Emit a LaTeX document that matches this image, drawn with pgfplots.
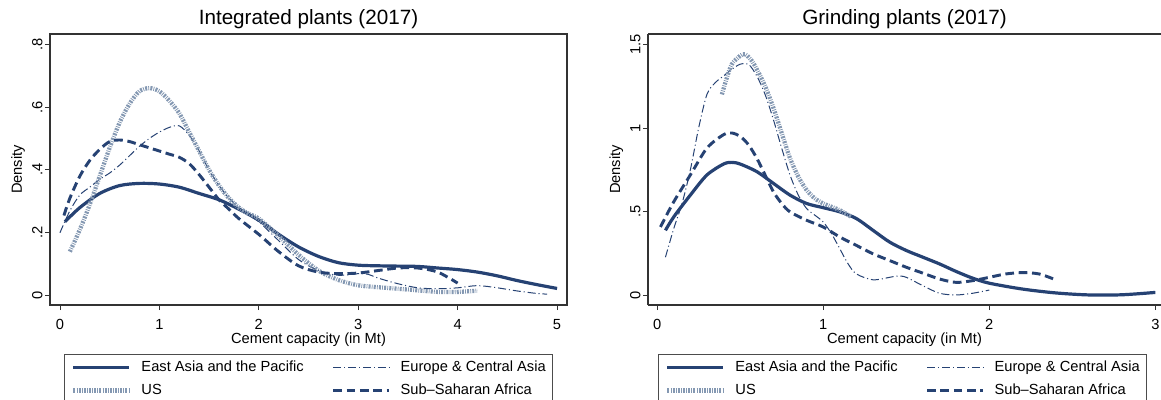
\documentclass[border=0pt]{standalone}
\usepackage{fontspec}
\setmainfont{Liberation Sans}
\usepackage{pgfplots}
\pgfplotsset{compat=1.18}
\definecolor{navyc}{RGB}{38,66,115}
\definecolor{usc}{RGB}{132,152,178}
\pgfplotsset{
  statastyle/.style={
    scale only axis, height=203.25pt,
    axis line style={black!80, line width=0.9pt},
    tick align=outside, major tick length=3.75pt,
    tick style={black!80, line width=0.6pt},
    xtick pos=bottom, ytick pos=left,
    ticklabel style={font=\fontsize{11}{13}\selectfont},
    xticklabel shift=3.2pt,
    yticklabel shift=2pt,
    /pgf/number format/assume math mode=true,
    title style={font=\fontsize{15.5}{18}\selectfont, anchor=base, at={(0.5,1)}, yshift=0.75pt},
    xlabel style={font=\fontsize{11}{13}\selectfont, at={(axis description cs:0.5,0)}, anchor=base, yshift=-28.9pt},
    ylabel style={font=\fontsize{11}{13}\selectfont, at={([xshift=-21pt]axis description cs:0,0.5)}, anchor=base, rotate=0},
    yticklabel style={rotate=90, anchor=base},
    legend columns=2,
    legend cell align=left,
    legend image code/.code={\draw[#1] (0pt,0pt) -- (42pt,0pt);},
    legend style={anchor=north, draw=black!70, line width=0.6pt,
      font=\fontsize{11}{13}\selectfont,
      inner xsep=5.25pt, inner ysep=4.6pt,
      nodes={inner sep=0pt, text height=8pt, text depth=2.3pt},
      row sep=7pt,
      /tikz/every odd column/.append style={column sep=7.5pt},
      /tikz/every even column/.append style={column sep=21pt}},
    every axis plot/.append style={smooth, line join=round},
  },
  eap/.style={navyc, line width=2.4pt},
  eca/.style={navyc, line width=0.75pt, dash pattern=on 6pt off 2.2pt on 0.8pt off 2.2pt},
  us/.style={usc, line width=3.2pt, dash pattern=on 1.5pt off 0.9pt on 0.6pt off 0.9pt},
  ssa/.style={navyc, line width=2.2pt, dash pattern=on 6.5pt off 3.5pt},
}
\begin{document}
\begin{tikzpicture}
\begin{axis}[statastyle, at={(0pt,0pt)}, anchor=south west,
  width=387.75pt,
  xmin=-0.1, xmax=5.1, ymin=-0.0296, ymax=0.832,
  xtick={0,1,2,3,4,5},
  ytick={0,0.2,0.4,0.6,0.8}, yticklabels={0,.2,.4,.6,.8},
  title={Integrated plants (2017)},
  xlabel={Cement capacity (in Mt)}, ylabel={Density},
  legend style={at={(0.5,-0.1808)}},
]
\addplot[eap] coordinates {(0.05,0.235)(0.2,0.28)(0.4,0.325)(0.6,0.35)(0.8,0.357)(1.0,0.355)(1.2,0.345)(1.4,0.325)(1.6,0.305)(1.8,0.275)(2.0,0.24)(2.2,0.195)(2.4,0.155)(2.6,0.125)(2.8,0.105)(3.0,0.097)(3.2,0.095)(3.4,0.094)(3.6,0.093)(3.8,0.088)(4.0,0.083)(4.2,0.075)(4.4,0.063)(4.6,0.048)(4.8,0.035)(5.0,0.023)};
\addlegendentry{East Asia and the Pacific}
\addplot[eca] coordinates {(0,0.2)(0.1,0.27)(0.2,0.32)(0.3,0.345)(0.4,0.37)(0.5,0.39)(0.6,0.415)(0.7,0.445)(0.8,0.475)(0.9,0.5)(1.0,0.52)(1.1,0.535)(1.2,0.54)(1.3,0.51)(1.4,0.46)(1.5,0.4)(1.6,0.35)(1.7,0.31)(1.8,0.28)(1.9,0.255)(2.0,0.235)(2.2,0.175)(2.4,0.115)(2.6,0.08)(2.8,0.065)(3.0,0.07)(3.1,0.068)(3.2,0.056)(3.4,0.038)(3.6,0.025)(3.8,0.022)(4.0,0.025)(4.2,0.032)(4.4,0.025)(4.6,0.015)(4.8,0.007)(4.9,0.005)};
\addlegendentry{Europe \& Central Asia\hspace{4.5pt}}
\addplot[us] coordinates {(0.1,0.14)(0.2,0.21)(0.3,0.29)(0.4,0.38)(0.5,0.47)(0.6,0.55)(0.7,0.61)(0.8,0.65)(0.9,0.66)(1.0,0.65)(1.1,0.62)(1.2,0.58)(1.3,0.52)(1.4,0.46)(1.5,0.40)(1.6,0.35)(1.7,0.31)(1.8,0.28)(1.9,0.26)(2.0,0.245)(2.2,0.19)(2.4,0.13)(2.6,0.08)(2.8,0.05)(3.0,0.033)(3.2,0.027)(3.4,0.022)(3.6,0.017)(3.8,0.012)(4.0,0.012)(4.2,0.016)};
\addlegendentry{US}
\addplot[ssa] coordinates {(0.04,0.255)(0.1,0.31)(0.2,0.38)(0.3,0.43)(0.4,0.465)(0.5,0.49)(0.6,0.495)(0.7,0.49)(0.8,0.48)(0.9,0.47)(1.0,0.46)(1.1,0.45)(1.2,0.44)(1.3,0.42)(1.4,0.385)(1.5,0.345)(1.6,0.305)(1.7,0.275)(1.8,0.245)(2.0,0.195)(2.2,0.14)(2.4,0.095)(2.6,0.075)(2.8,0.07)(3.0,0.072)(3.2,0.08)(3.4,0.088)(3.6,0.088)(3.8,0.075)(4.0,0.04)};
\addlegendentry{Sub\char"2013Saharan Africa}
\end{axis}
\begin{axis}[statastyle, at={(448.5pt,0pt)}, anchor=south west,
  width=384.75pt,
  axis y line*=left,
  xmin=-0.055, xmax=3.034, ymin=-0.055, ymax=1.56,
  xtick={0,1,2,3},
  ytick={0,0.5,1,1.5}, yticklabels={0,.5,1,1.5},
  title={Grinding plants (2017)},
  xlabel={Cement capacity (in Mt)}, ylabel={Density},
  legend style={at={(0.496,-0.1808)}},
]
\addplot[eap] coordinates {(0.05,0.39)(0.1,0.47)(0.2,0.6)(0.3,0.72)(0.4,0.785)(0.45,0.795)(0.5,0.785)(0.6,0.74)(0.7,0.67)(0.8,0.6)(0.9,0.55)(1.0,0.525)(1.1,0.5)(1.2,0.46)(1.3,0.39)(1.4,0.32)(1.5,0.27)(1.6,0.23)(1.7,0.19)(1.8,0.145)(1.9,0.105)(2.0,0.075)(2.2,0.04)(2.4,0.017)(2.6,0.005)(2.8,0.006)(3.0,0.02)};
\addlegendentry{East Asia and the Pacific}
\addplot[eca] coordinates {(0.05,0.23)(0.1,0.4)(0.15,0.55)(0.2,0.75)(0.25,1.0)(0.3,1.2)(0.35,1.27)(0.4,1.31)(0.45,1.35)(0.5,1.38)(0.55,1.38)(0.6,1.31)(0.65,1.2)(0.7,1.05)(0.75,0.88)(0.8,0.72)(0.85,0.6)(0.9,0.52)(0.95,0.48)(1.0,0.44)(1.05,0.37)(1.1,0.28)(1.15,0.19)(1.2,0.13)(1.3,0.095)(1.4,0.11)(1.45,0.118)(1.5,0.11)(1.6,0.06)(1.7,0.015)(1.8,0.005)(1.9,0.015)(2.0,0.034)};
\addlegendentry{Europe \& Central Asia\hspace{4.5pt}}
\addplot[us] coordinates {(0.39,1.2)(0.42,1.3)(0.45,1.38)(0.5,1.43)(0.53,1.44)(0.57,1.4)(0.6,1.35)(0.65,1.25)(0.7,1.12)(0.75,0.97)(0.8,0.82)(0.85,0.71)(0.9,0.63)(0.95,0.58)(1.0,0.55)(1.05,0.53)(1.1,0.51)(1.17,0.47)};
\addlegendentry{US}
\addplot[ssa] coordinates {(0.02,0.41)(0.1,0.56)(0.2,0.72)(0.3,0.88)(0.4,0.96)(0.45,0.97)(0.5,0.95)(0.55,0.9)(0.6,0.82)(0.65,0.72)(0.7,0.62)(0.75,0.55)(0.8,0.5)(0.9,0.45)(1.0,0.41)(1.1,0.35)(1.2,0.3)(1.3,0.25)(1.4,0.21)(1.5,0.17)(1.6,0.135)(1.7,0.1)(1.8,0.08)(1.9,0.09)(2.0,0.11)(2.1,0.13)(2.2,0.138)(2.3,0.13)(2.4,0.095)};
\addlegendentry{Sub\char"2013Saharan Africa}
\end{axis}
\pgfresetboundingbox
\path[use as bounding box] (-37.5pt,-71.25pt) rectangle (833.25pt,228.75pt);
\end{tikzpicture}
\end{document}
